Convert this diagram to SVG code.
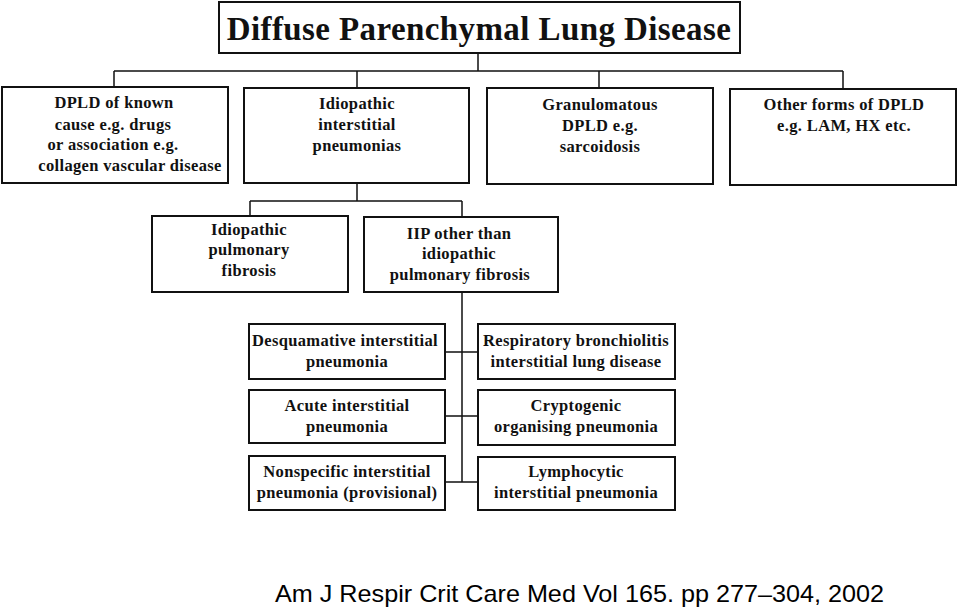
<svg xmlns="http://www.w3.org/2000/svg" width="959" height="609" viewBox="0 0 959 609">
<style>
.box{fill:#fff;stroke:#111;stroke-width:2}
.conn{fill:none;stroke:#111;stroke-width:1.5}
.t{font-family:"Liberation Serif","Times New Roman",serif;font-weight:bold;font-size:16.5px;letter-spacing:0.35px;fill:#111;text-anchor:middle}
.title{font-family:"Liberation Serif","Times New Roman",serif;font-weight:bold;font-size:33px;letter-spacing:0.4px;fill:#111;text-anchor:middle}
.foot{font-family:"Liberation Sans",Arial,sans-serif;font-size:24px;fill:#000}
</style>
<rect width="959" height="609" fill="#fff"/>
<g id="connectors">
<path class="conn" d="M478,54 V71 M114,71 H843 M114,71 V87 M357,71 V88 M599,71 V88 M843,71 V89"/>
<path class="conn" d="M357,183 V201 M250,201 H462 M250,201 V216 M462,201 V217"/>
<path class="conn" d="M462,292 V482 M445,352 H478 M445,416 H478 M445,482 H478"/>
</g>
<g id="title">
<rect class="box" x="219" y="2" width="521" height="51"/>
<text class="title" x="479" y="40">Diffuse Parenchymal Lung Disease</text>
</g>
<g id="known-cause">
<rect class="box" x="2" y="87" width="226" height="96"/>
<text class="t" x="114" y="108">DPLD of known</text>
<text class="t" x="113" y="130">cause e.g. drugs</text>
<text class="t" x="113" y="150">or association e.g.</text>
<text class="t" x="130" y="171">collagen vascular disease</text>
</g>
<g id="iip">
<rect class="box" x="244" y="88" width="225" height="95"/>
<text class="t" x="357" y="109">Idiopathic</text>
<text class="t" x="357" y="130">interstitial</text>
<text class="t" x="357" y="151">pneumonias</text>
</g>
<g id="granulomatous">
<rect class="box" x="487" y="88" width="226" height="96"/>
<text class="t" x="600" y="110">Granulomatous</text>
<text class="t" x="600" y="131">DPLD e.g.</text>
<text class="t" x="600" y="152">sarcoidosis</text>
</g>
<g id="other-forms">
<rect class="box" x="730" y="89" width="226" height="96"/>
<text class="t" x="844" y="110">Other forms of DPLD</text>
<text class="t" x="844" y="131">e.g. LAM, HX etc.</text>
</g>
<g id="ipf">
<rect class="box" x="152" y="216" width="196" height="76"/>
<text class="t" x="249" y="235">Idiopathic</text>
<text class="t" x="249" y="255">pulmonary</text>
<text class="t" x="249" y="276">fibrosis</text>
</g>
<g id="iip-other">
<rect class="box" x="364" y="217" width="194" height="75"/>
<text class="t" x="459" y="239">IIP other than</text>
<text class="t" x="459" y="259">idiopathic</text>
<text class="t" x="460" y="280">pulmonary fibrosis</text>
</g>
<g id="dip">
<rect class="box" x="249" y="324" width="196" height="55"/>
<text class="t" x="345" y="346">Desquamative interstitial</text>
<text class="t" x="347" y="367">pneumonia</text>
</g>
<g id="rbild">
<rect class="box" x="478" y="324" width="197" height="55"/>
<text class="t" x="576" y="346">Respiratory bronchiolitis</text>
<text class="t" x="576" y="367">interstitial lung disease</text>
</g>
<g id="aip">
<rect class="box" x="249" y="390" width="196" height="53"/>
<text class="t" x="347" y="411">Acute interstitial</text>
<text class="t" x="347" y="432">pneumonia</text>
</g>
<g id="cop">
<rect class="box" x="478" y="390" width="197" height="55"/>
<text class="t" x="576" y="411">Cryptogenic</text>
<text class="t" x="576" y="432">organising pneumonia</text>
</g>
<g id="nsip">
<rect class="box" x="249" y="456" width="196" height="54"/>
<text class="t" x="347" y="477">Nonspecific interstitial</text>
<text class="t" x="347" y="498">pneumonia (provisional)</text>
</g>
<g id="lip">
<rect class="box" x="478" y="457" width="197" height="53"/>
<text class="t" x="576" y="477">Lymphocytic</text>
<text class="t" x="576" y="498">interstitial pneumonia</text>
</g>
<text class="foot" x="275" y="602" textLength="609" lengthAdjust="spacingAndGlyphs">Am J Respir Crit Care Med Vol 165. pp 277–304, 2002</text>
</svg>
